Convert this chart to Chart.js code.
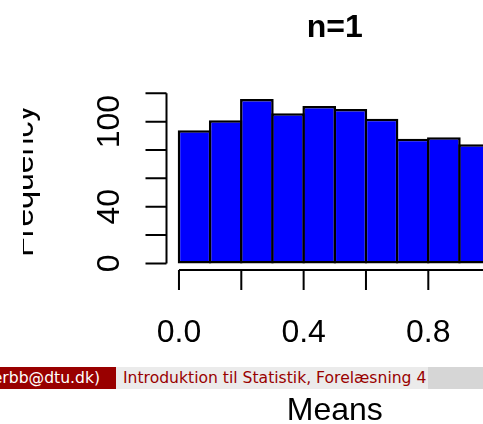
<!DOCTYPE html>
<html>
<head>
<meta charset="utf-8">
<script src="https://cdn.jsdelivr.net/npm/chart.js@4/dist/chart.umd.min.js"></script>
<style>
  html, body { margin: 0; padding: 0; background: #fff; width: 483px; height: 424px; overflow: hidden; }
  #wrap { position: relative; width: 483px; height: 424px; overflow: hidden; }
  #myChart { position: absolute; left: 0; top: 0; }
  .foot { position: absolute; top: 367px; height: 22px; line-height: 22px; font-family: 'DejaVu Sans', sans-serif; font-size: 15.6px; white-space: nowrap; overflow: hidden; }
  .f1 { left: 0; width: 116px; background: #990000; color: #fff; }
  .f1 span { position: absolute; right: 16px; top: 0; }
  .f2 { left: 116px; width: 312px; background: #ebebeb; color: #990000; padding-left: 7px; box-sizing: border-box; }
  .f3 { left: 428px; width: 55px; background: #d6d6d6; }
</style>
</head>
<body>
<div id="wrap">
  <canvas id="myChart" width="520" height="424"></canvas>
  <div class="foot f1"><span>erbb@dtu.dk)</span></div>
  <div class="foot f2">Introduktion til Statistik, Forelæsning 4</div>
  <div class="foot f3"></div>
</div>
<script>
// histogram of 1000 means (n=1)
const binEdges = [0, 0.1, 0.2, 0.3, 0.4, 0.5, 0.6, 0.7, 0.8, 0.9, 1.0];
const counts = [94, 101, 116, 106, 111, 109, 102, 88, 89, 84];

const xTicks = [0, 0.2, 0.4, 0.6, 0.8, 1.0];
const xTickLabels = ['0.0', '', '0.4', '', '0.8', ''];
const yTicks = [0, 20, 40, 60, 80, 100, 120];
const yTickLabels = ['0', '', '40', '', '', '100', ''];

const mainTitle = 'n=1';
const xLabel = 'Means';
const yLabel = 'Frequency';

const FONT = "'Liberation Sans', Arial, sans-serif";

// R style axes + titles
const rAxes = {
  id: 'rAxes',
  afterDraw(chart) {
    const { ctx, chartArea } = chart;
    const xs = chart.scales.x, ys = chart.scales.y;
    ctx.save();
    ctx.strokeStyle = '#000';
    ctx.fillStyle = '#000';
    ctx.lineWidth = 2;

    // x axis
    const ax = chartArea.bottom;
    ctx.beginPath();
    ctx.moveTo(xs.getPixelForValue(xTicks[0]), ax);
    ctx.lineTo(xs.getPixelForValue(xTicks[xTicks.length - 1]), ax);
    xTicks.forEach(v => {
      const px = xs.getPixelForValue(v);
      ctx.moveTo(px, ax);
      ctx.lineTo(px, ax + 20);
    });
    ctx.stroke();
    ctx.font = '32px ' + FONT;
    ctx.textAlign = 'center';
    ctx.textBaseline = 'alphabetic';
    xTicks.forEach((v, i) => {
      if (xTickLabels[i]) ctx.fillText(xTickLabels[i], xs.getPixelForValue(v), ax + 72);
    });

    // y axis
    const ay = chartArea.left;
    ctx.beginPath();
    ctx.moveTo(ay, ys.getPixelForValue(yTicks[0]));
    ctx.lineTo(ay, ys.getPixelForValue(yTicks[yTicks.length - 1]));
    yTicks.forEach(v => {
      const py = ys.getPixelForValue(v);
      ctx.moveTo(ay, py);
      ctx.lineTo(ay - 21, py);
    });
    ctx.stroke();
    yTicks.forEach((v, i) => {
      if (!yTickLabels[i]) return;
      ctx.save();
      ctx.translate(ay - 48, ys.getPixelForValue(v));
      ctx.rotate(-Math.PI / 2);
      ctx.fillText(yTickLabels[i], 0, 0);
      ctx.restore();
    });

    const cx = (chartArea.left + chartArea.right) / 2;
    const cy = (chartArea.top + chartArea.bottom) / 2;

    // titles
    ctx.font = 'bold 32px ' + FONT;
    ctx.fillText(mainTitle, cx, 37);
    ctx.font = '32px ' + FONT;
    ctx.fillText(xLabel, cx, 420);

    ctx.save();
    ctx.beginPath();
    ctx.rect(23, 0, 600, 424);
    ctx.clip();
    ctx.translate(33, cy);
    ctx.rotate(-Math.PI / 2);
    ctx.fillText(yLabel, 0, 0);
    ctx.restore();

    ctx.restore();
  }
};

const barData = counts.map((c, i) => ({ x: (binEdges[i] + binEdges[i + 1]) / 2, y: c }));

const ctx = document.getElementById('myChart');
const myChart = new Chart(ctx, {
  type: 'bar',
  data: {
    datasets: [{
      data: barData,
      backgroundColor: '#0000ff',
      borderColor: '#000000',
      borderWidth: 2.5,
      borderSkipped: false,
      barPercentage: 1.08,
      categoryPercentage: 1
    }]
  },
  options: {
    responsive: false,
    animation: false,
    devicePixelRatio: 1,
    layout: { padding: { left: 166.5, right: 16.9, top: 92.4, bottom: 154 } },
    plugins: {
      legend: { display: false },
      tooltip: { enabled: false },
      title: { display: false }
    },
    scales: {
      x: { type: 'linear', min: -0.04, max: 1.04, offset: false, display: false },
      y: { type: 'linear', min: -4.64, max: 120.64, display: false }
    }
  },
  plugins: [rAxes]
});
</script>
</body>
</html>
